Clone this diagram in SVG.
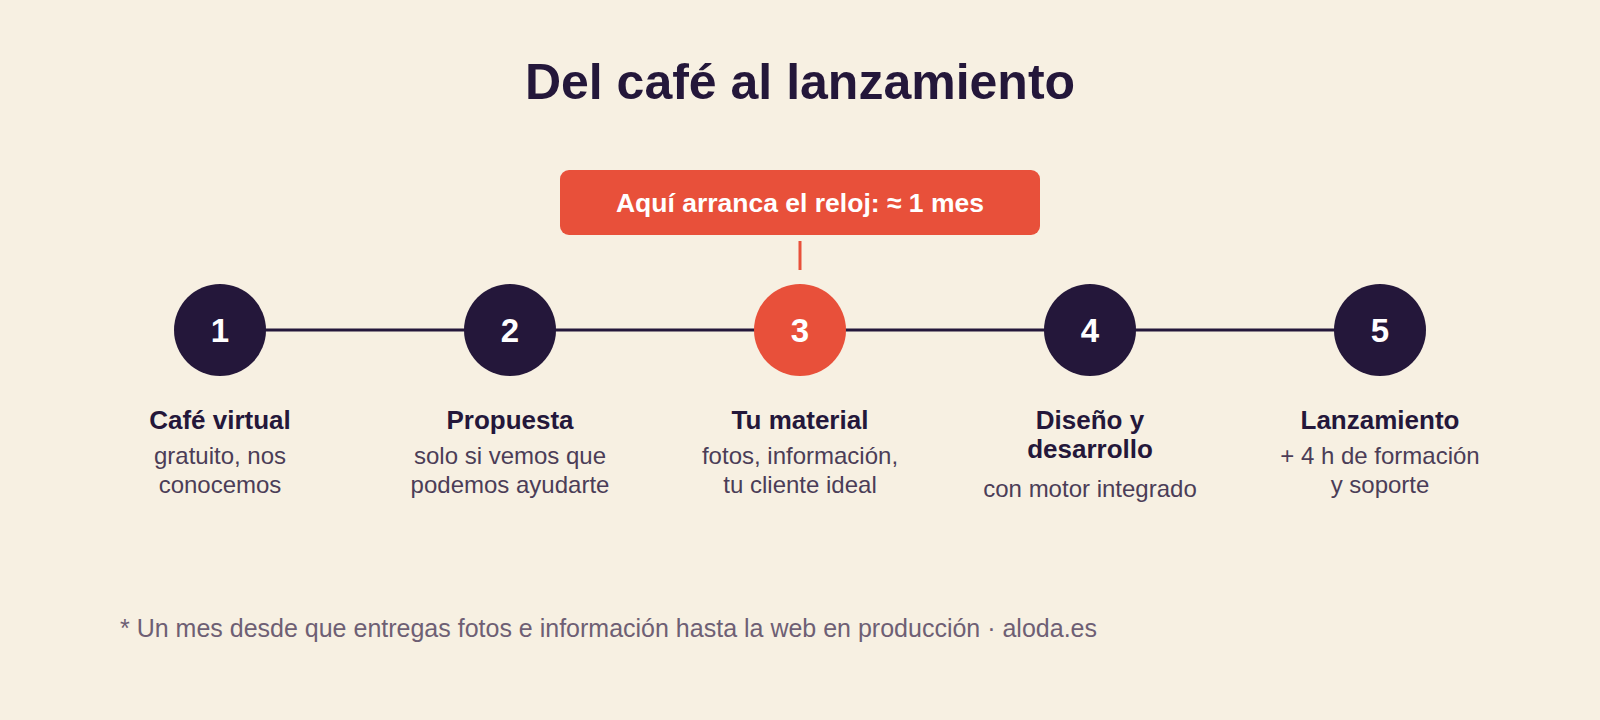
<svg xmlns="http://www.w3.org/2000/svg" width="1600" height="720" viewBox="0 0 1600 720">
<style>
.t{font-family:"Liberation Sans",Arial,sans-serif;text-anchor:middle}
.title{font-size:50px;font-weight:bold;fill:#24173a}
.num{font-size:33px;font-weight:bold;fill:#ffffff}
.lab{font-size:26px;font-weight:bold;fill:#24173a}
.sub{font-size:24px;fill:#4b3d57}
.dark{fill:#24173a}
.accent{fill:#e8503a}
</style>
<rect width="1600" height="720" fill="#f7f0e2"/>
<text class="t title" x="800" y="99">Del café al lanzamiento</text>
<g id="connectors">
<line x1="220" y1="330" x2="1380" y2="330" stroke="#24173a" stroke-width="3"/>
<line x1="800" y1="241" x2="800" y2="270" stroke="#e8503a" stroke-width="3"/>
</g>
<g id="callout">
<rect x="560" y="170" width="480" height="65" rx="9" class="accent"/>
<text class="t" x="800" y="212" font-size="26.5" font-weight="bold" fill="#ffffff">Aquí arranca el reloj: ≈ 1 mes</text>
</g>
<g id="step1">
<circle cx="220" cy="330" r="46" class="dark"/>
<text class="t num" x="220" y="342">1</text>
<text class="t lab" x="220" y="429">Café virtual</text>
<text class="t sub" x="220" y="464">gratuito, nos</text>
<text class="t sub" x="220" y="493">conocemos</text>
</g>
<g id="step2">
<circle cx="510" cy="330" r="46" class="dark"/>
<text class="t num" x="510" y="342">2</text>
<text class="t lab" x="510" y="429">Propuesta</text>
<text class="t sub" x="510" y="464">solo si vemos que</text>
<text class="t sub" x="510" y="493">podemos ayudarte</text>
</g>
<g id="step3">
<circle cx="800" cy="330" r="46" class="accent"/>
<text class="t num" x="800" y="342">3</text>
<text class="t lab" x="800" y="429">Tu material</text>
<text class="t sub" x="800" y="464">fotos, información,</text>
<text class="t sub" x="800" y="493">tu cliente ideal</text>
</g>
<g id="step4">
<circle cx="1090" cy="330" r="46" class="dark"/>
<text class="t num" x="1090" y="342">4</text>
<text class="t lab" x="1090" y="429">Diseño y</text>
<text class="t lab" x="1090" y="458">desarrollo</text>
<text class="t sub" x="1090" y="497">con motor integrado</text>
</g>
<g id="step5">
<circle cx="1380" cy="330" r="46" class="dark"/>
<text class="t num" x="1380" y="342">5</text>
<text class="t lab" x="1380" y="429">Lanzamiento</text>
<text class="t sub" x="1380" y="464">+ 4 h de formación</text>
<text class="t sub" x="1380" y="493">y soporte</text>
</g>
<text x="120" y="637" font-family="Liberation Sans,Arial,sans-serif" font-size="25" fill="#6e5f74">* Un mes desde que entregas fotos e información hasta la web en producción · aloda.es</text>
</svg>
